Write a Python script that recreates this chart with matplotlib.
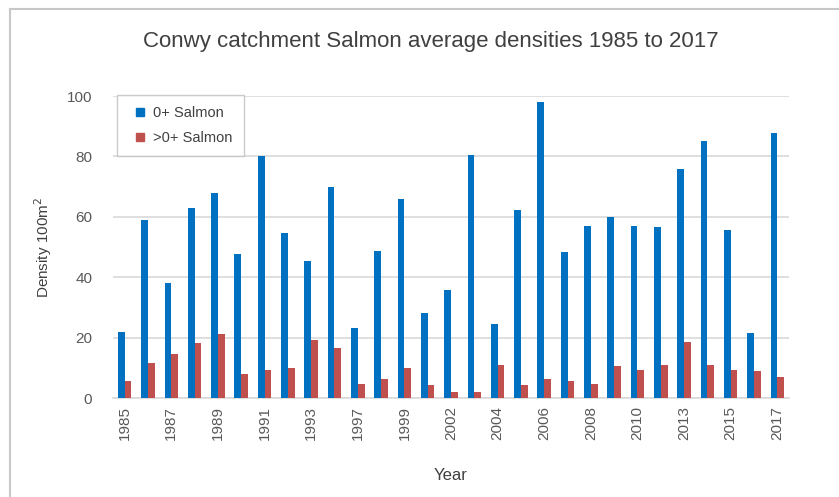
import matplotlib
matplotlib.use("Agg")
import matplotlib.pyplot as plt
from matplotlib.lines import Line2D
import numpy as np

years = ["1985", "1986", "1987", "1988", "1989", "1990", "1991", "1992", "1993", "1995",
         "1997", "1998", "1999", "2000", "2002", "2003", "2004", "2005", "2006", "2007",
         "2008", "2009", "2010", "2012", "2013", "2014", "2015", "2016", "2017"]
salmon_0 = [21.8, 59.1, 38.0, 62.8, 68.0, 47.8, 80.0, 54.5, 45.3, 70.0,
            23.3, 48.8, 66.0, 28.1, 35.9, 80.4, 24.4, 62.3, 98.1, 48.2,
            57.0, 59.8, 57.0, 56.5, 75.8, 85.1, 55.5, 21.4, 87.8]
salmon_gt0 = [5.7, 11.5, 14.5, 18.2, 21.3, 7.8, 9.4, 9.9, 19.3, 16.7,
              4.7, 6.3, 9.9, 4.3, 2.1, 2.1, 10.9, 4.3, 6.3, 5.7,
              4.7, 10.5, 9.4, 10.9, 18.7, 10.9, 9.4, 8.8, 6.8]
series_names = ["0+ Salmon", ">0+ Salmon"]
yticks = [0, 20, 40, 60, 80, 100]

W, H = 839, 497
fig = plt.figure(figsize=(W / 100, H / 100), dpi=100)
ax = fig.add_axes([113 / W, 1 - 398 / H, 676 / W, 302 / H])

x = np.arange(len(years))
bw = 0.29
blue = "#0070c0"
red = "#c0504d"
ax.bar(x - bw / 2, salmon_0, width=bw, color=blue, zorder=3, label=series_names[0])
ax.bar(x + bw / 2, salmon_gt0, width=bw, color=red, zorder=3, label=series_names[1])

fam = "Liberation Sans"
ax.set_xlim(-0.5, len(years) - 0.5)
ax.set_ylim(0, 100)
ax.set_yticks(yticks)
ax.set_yticklabels([str(v) for v in yticks], fontsize=11, color="#595959", family=fam)
ax.set_xticks(x[::2])
ax.set_xticklabels(years[::2], rotation=90, fontsize=11, color="#595959", family=fam)
ax.tick_params(axis="both", length=0)
ax.tick_params(axis="y", pad=15)
ax.tick_params(axis="x", pad=6)
ax.grid(axis="y", color="#d9d9d9", linewidth=1.2, zorder=0)
for s in ["top", "right", "left"]:
    ax.spines[s].set_visible(False)
ax.spines["bottom"].set_color("#d9d9d9")
ax.spines["bottom"].set_linewidth(1.2)

ax.set_ylabel("Density 100m$^2$", fontsize=11, color="#404040", family=fam, labelpad=9)
ax.set_xlabel("Year", fontsize=12, color="#404040", family=fam, labelpad=20)
fig.text(431 / W, 1 - 41 / H, "Conwy catchment Salmon average densities 1985 to 2017",
         ha="center", va="center", fontsize=16, color="#404040", family=fam)

handles = [Line2D([], [], marker="s", linestyle="none", markersize=6, color=blue),
           Line2D([], [], marker="s", linestyle="none", markersize=6, color=red)]
leg = ax.legend(handles, series_names, loc="upper left", bbox_to_anchor=(4 / 676, 1.003),
                frameon=True, fancybox=False, edgecolor="#bfbfbf",
                prop={"family": fam, "size": 10.5}, handletextpad=0.15,
                borderpad=0.75, labelspacing=0.75, handlelength=1.6, borderaxespad=0)
for t in leg.get_texts():
    t.set_color("#404040")
leg.get_frame().set_linewidth(1.0)

# chart area border
fig.add_artist(Line2D([10 / W, 10 / W], [0, 1 - 9 / H], transform=fig.transFigure,
                      color="#c8c8c8", linewidth=1.5))
fig.add_artist(Line2D([10 / W, 1], [1 - 9 / H, 1 - 9 / H], transform=fig.transFigure,
                      color="#c8c8c8", linewidth=1.5))

fig.savefig("out.png", dpi=100)
